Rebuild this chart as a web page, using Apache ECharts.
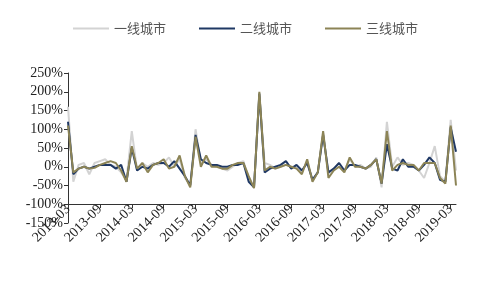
<!DOCTYPE html>
<html><head><meta charset="utf-8">
<script src="https://cdn.jsdelivr.net/npm/echarts@6/dist/echarts.min.js"></script>
<style>html,body{margin:0;padding:0;background:#fff}#c{width:491px;height:290px}</style>
</head><body><div id="c"></div>
<script>
var categories = [];
(function(){ for (var y = 2013, m = 3; !(y === 2019 && m === 5); ) { categories.push(y + '-' + (m < 10 ? '0' + m : m)); m++; if (m > 12) { m = 1; y++; } } })();
var seriesNames = ['一线城市', '二线城市', '三线城市'];
var tier1 = [160,-40,5,10,-20,10,15,20,5,0,-15,-35,95,-10,10,0,10,5,10,25,0,20,-30,-50,100,10,20,5,0,-5,-10,0,10,15,-30,-55,190,10,5,-5,0,5,0,0,-15,15,-35,-15,90,-20,-5,10,-10,20,0,5,-5,0,25,-55,120,0,25,5,10,5,-10,-30,10,55,-25,-40,125,-10];
var tier2 = [120,-20,-5,0,-5,0,5,5,5,-5,5,-40,50,-10,0,-5,5,10,10,0,15,-5,-25,-50,85,20,10,5,5,0,0,5,5,10,-40,-55,195,-15,-5,0,5,15,-5,5,-10,10,-35,-15,85,-15,-5,10,-10,5,5,0,-5,5,20,-45,60,-5,-10,20,0,0,-10,5,25,10,-35,-40,105,40];
var tier3 = [110,-15,-5,0,-5,-3,5,10,15,10,-10,-40,55,-5,10,-15,5,10,20,-5,0,30,-25,-55,80,0,30,0,0,-5,-5,5,10,10,-25,-57,200,-10,0,-5,0,5,0,-5,-20,20,-40,-15,95,-30,-10,0,-15,25,0,0,-5,5,20,-45,95,-10,5,10,5,5,-10,10,10,10,-30,-45,110,-50];
var yTicks = {min: -150, max: 250, interval: 50};
var colors = ['#d3d3d3', '#1f3864', '#8c8456'];

var chart = echarts.init(document.getElementById('c'), null, {renderer: 'canvas'});
var data = [tier1, tier2, tier3];
chart.setOption({
  animation: false,
  color: colors,
  legend: {
    top: 17, left: 'center', itemGap: 33, itemWidth: 36, itemHeight: 2, icon: 'rect',
    textStyle: {fontFamily: 'Noto Sans CJK SC', fontSize: 13, color: '#555'},
    data: seriesNames
  },
  grid: {left: 68, right: 35, top: 73, bottom: 67, containLabel: false},
  xAxis: {
    type: 'category', data: categories, boundaryGap: false, offset: -19,
    axisLine: {onZero: false, lineStyle: {color: '#333', width: 1}},
    axisTick: {interval: 5, length: 4, inside: false, lineStyle: {color: '#333'}},
    axisLabel: {interval: 5, rotate: 45, fontFamily: 'Liberation Serif', fontSize: 14, color: '#222', margin: 3},
    splitLine: {show: false}
  },
  yAxis: {
    type: 'value', min: yTicks.min, max: yTicks.max, interval: yTicks.interval,
    axisLine: {show: true, lineStyle: {color: '#333'}},
    axisTick: {show: true, length: 4, lineStyle: {color: '#333'}},
    axisLabel: {formatter: function(v){ return v + '%'; }, fontFamily: 'Liberation Serif', fontSize: 14, color: '#222', margin: 5},
    splitLine: {show: false}
  },
  series: data.map(function(d, i){
    return {name: seriesNames[i], type: 'line', data: d, symbol: 'none', smooth: false,
      lineStyle: {width: 2, color: colors[i]}, itemStyle: {color: colors[i]}, z: 2 + i};
  })
});
</script></body></html>
